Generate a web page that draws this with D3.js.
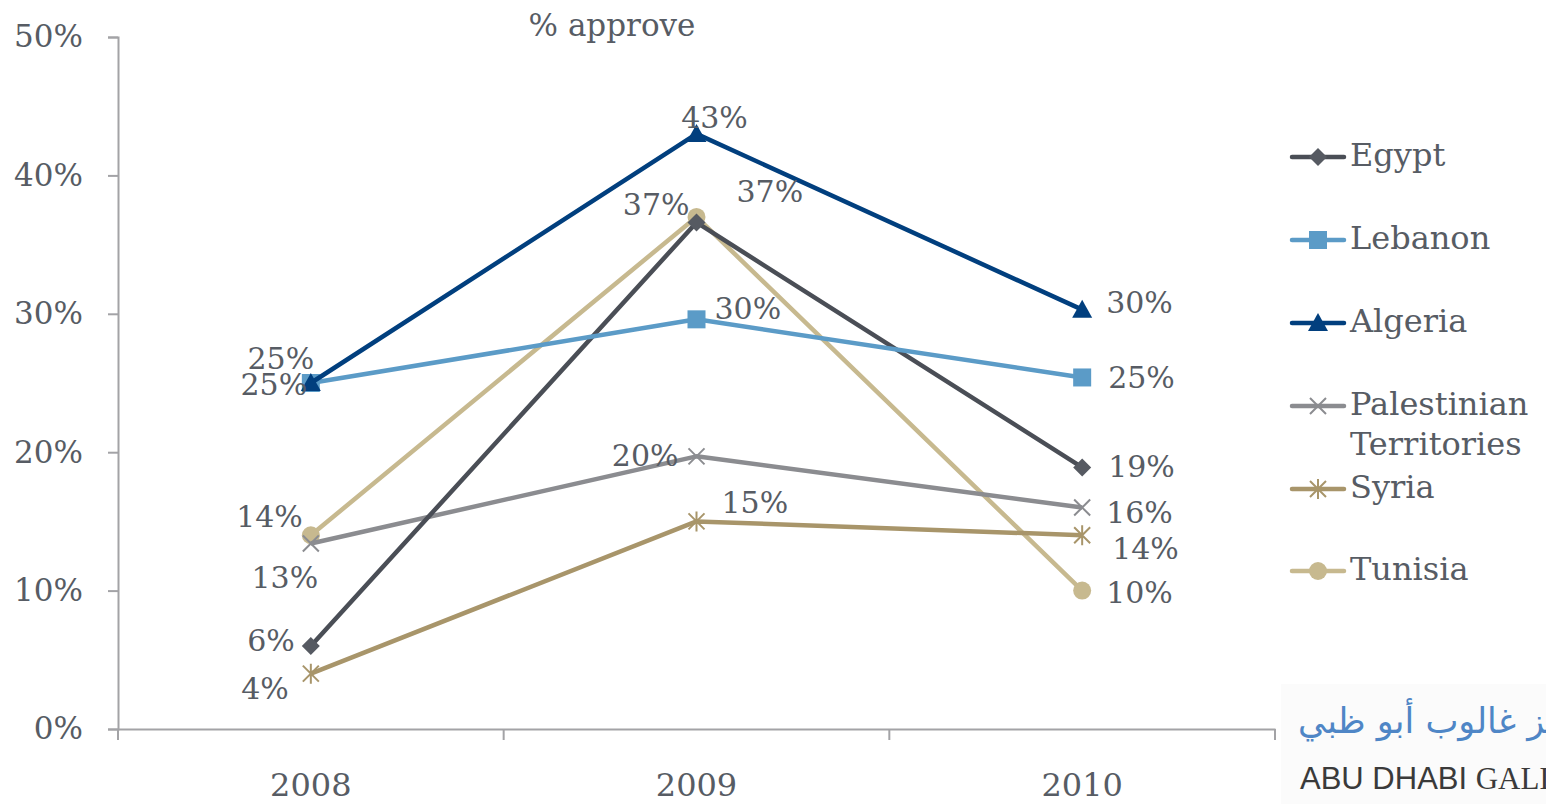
<!DOCTYPE html>
<html><head><meta charset="utf-8">
<script src="https://cdn.jsdelivr.net/npm/d3@7"></script>
<style>
body{margin:0;background:#fff;}
svg{display:block;}
text{font-family:Georgia,"DejaVu Serif",serif;fill:#575c64;}
</style></head><body>
<svg id="c" width="1546" height="804"></svg>
<script>
const years = ["2008", "2009", "2010"];
const yTicks = [0, 10, 20, 30, 40, 50];
const seriesNames = ["Egypt", "Lebanon", "Algeria", "Palestinian Territories", "Syria", "Tunisia"];
const egypt = [6, 36.6, 18.9];
const lebanon = [25, 29.6, 25.4];
const algeria = [25, 43, 30.3];
const palestinian = [13.4, 19.7, 16];
const syria = [4, 15, 14];
const tunisia = [14, 37, 10];
const labelsEgypt = ["6%", "37%", "19%"];
const labelsLebanon = ["25%", "30%", "25%"];
const labelsAlgeria = ["25%", "43%", "30%"];
const labelsPalestinian = ["13%", "20%", "16%"];
const labelsSyria = ["4%", "15%", "14%"];
const labelsTunisia = ["14%", "37%", "10%"];

// styling / placement (not data)
const colors = ["#4a4e56", "#5b9bc7", "#013f7e", "#8b8c90", "#a8956a", "#c7b98f"];
const symbols = ["diamond", "square", "triangle", "cross", "asterisk", "circle"];
const labelOffsets = [
  [[-16, -3, "end"], [40, -28, "start"], [26, 2, "start"]],
  [[-30, -22, "middle"], [18, -8, "start"], [26, 3, "start"]],
  [[-37, 4, "middle"], [18, -14, "middle"], [24, -5, "start"]],
  [[-26, 36, "middle"], [-18, 2, "end"], [24, 7, "start"]],
  [[-22, 17, "end"], [25, -16, "start"], [30, 16, "start"]],
  [[-8, -16, "end"], [-7, -10, "end"], [24, 4, "start"]]
];

const allValues = [egypt, lebanon, algeria, palestinian, syria, tunisia];
const allLabels = [labelsEgypt, labelsLebanon, labelsAlgeria, labelsPalestinian, labelsSyria, labelsTunisia];

const svg = d3.select("#c");
const pLeft = 118, pRight = 1275, pTop = 37, pBottom = 729;
const x = d3.scaleBand().domain(years).range([pLeft, pRight]);
const y = d3.scaleLinear().domain([0, 50]).range([pBottom, pTop]);
const cx = d => x(d) + x.bandwidth() / 2;
const serif = 'Georgia,"DejaVu Serif",serif';

// title
svg.append("text").attr("x", 612).attr("y", 36).attr("text-anchor", "middle")
  .style("font-size", "31px").text("% approve");

// y axis
const yAxis = svg.append("g").attr("transform", `translate(${pLeft},0)`)
  .call(d3.axisLeft(y).tickValues(yTicks).tickFormat(d => d + "%").tickSize(10).tickPadding(25));
yAxis.select(".domain").attr("stroke", "#a3a3a6").attr("stroke-width", 2);
yAxis.selectAll(".tick line").attr("stroke", "#a3a3a6").attr("stroke-width", 2);
yAxis.selectAll(".tick text").style("font-size", "31px").attr("fill", "#575c64")
  .style("font-family", serif);

// x axis
const xAxis = svg.append("g").attr("transform", `translate(0,${pBottom})`)
  .call(d3.axisBottom(x).tickSize(0).tickPadding(44));
xAxis.select(".domain").attr("stroke", "#a3a3a6").attr("stroke-width", 2);
xAxis.selectAll(".tick text").style("font-size", "32px").attr("fill", "#575c64")
  .style("font-family", serif);
const bounds = [x.range()[0]].concat(years.map(d => x(d) + x.bandwidth()));
xAxis.selectAll(".sep").data(bounds).enter().append("line")
  .attr("x1", d => d).attr("x2", d => d).attr("y1", 0).attr("y2", 11)
  .attr("stroke", "#a3a3a6").attr("stroke-width", 2);

function drawMarker(g, type, color, px, py) {
  if (type === "diamond") {
    g.append("path").attr("d", `M${px},${py-9}L${px+9},${py}L${px},${py+9}L${px-9},${py}Z`).attr("fill", "#565a62");
  } else if (type === "square") {
    g.append("rect").attr("x", px-9).attr("y", py-9).attr("width", 18).attr("height", 18).attr("fill", color);
  } else if (type === "triangle") {
    g.append("path").attr("d", `M${px},${py-10}L${px+10},${py+8}L${px-10},${py+8}Z`).attr("fill", color);
  } else if (type === "cross") {
    g.append("path").attr("d", `M${px-8},${py-8}L${px+8},${py+8}M${px-8},${py+8}L${px+8},${py-8}`)
      .attr("stroke", color).attr("stroke-width", 2);
  } else if (type === "asterisk") {
    g.append("path").attr("d", `M${px-8},${py-8}L${px+8},${py+8}M${px-8},${py+8}L${px+8},${py-8}M${px},${py-10}L${px},${py+10}`)
      .attr("stroke", color).attr("stroke-width", 2);
  } else if (type === "circle") {
    g.append("circle").attr("cx", px).attr("cy", py).attr("r", 9).attr("fill", color);
  }
}

const line = d3.line().x((d, i) => cx(years[i])).y(d => y(d));
const drawOrder = [5, 4, 3, 0, 1, 2];
drawOrder.forEach(si => {
  const g = svg.append("g");
  g.append("path").datum(allValues[si]).attr("d", line).attr("fill", "none")
    .attr("stroke", colors[si]).attr("stroke-width", 4.5).attr("stroke-linejoin", "round");
  allValues[si].forEach((v, i) => drawMarker(g, symbols[si], colors[si], cx(years[i]), y(v)));
});
// labels
allValues.forEach((vals, si) => {
  vals.forEach((v, i) => {
    const o = labelOffsets[si][i];
    svg.append("text").attr("x", cx(years[i]) + o[0]).attr("y", y(v) + o[1])
      .attr("text-anchor", o[2]).attr("dominant-baseline", "middle")
      .style("font-size", "30px").text(allLabels[si][i]);
  });
});

// legend
const legY = [157, 240, 323, 406, 489, 571];
seriesNames.forEach((name, si) => {
  const g = svg.append("g");
  const ly = legY[si];
  g.append("line").attr("x1", 1292).attr("x2", 1344).attr("y1", ly).attr("y2", ly)
    .attr("stroke", colors[si]).attr("stroke-width", 4.5).attr("stroke-linecap", "round");
  drawMarker(g, symbols[si], colors[si], 1318, ly);
  const words = name === "Palestinian Territories" ? ["Palestinian", "Territories"] : [name];
  words.forEach((w, k) => {
    g.append("text").attr("x", 1350).attr("y", ly + k * 40).attr("dominant-baseline", "middle")
      .style("font-size", "32px").text(w);
  });
});

// logo
svg.append("rect").attr("x", 1281).attr("y", 684).attr("width", 265).attr("height", 120).attr("fill", "#fbfbfb");
svg.append("text").attr("x", 1298).attr("y", 733).style("font-family", '"DejaVu Sans","Noto Sans",sans-serif')
  .style("font-size", "35px").style("fill", "#4f86c6").attr("direction", "ltr")
  .text("مركز غالوب أبو ظبي");
const t2 = svg.append("text").attr("x", 1300).attr("y", 789).style("font-size", "31px").style("fill", "#3a3a3a");
t2.append("tspan").style("font-family", '"Liberation Sans",Arial,sans-serif').style("fill", "#3a3a3a").text("ABU DHABI ");
t2.append("tspan").style("font-family", '"Liberation Serif",serif').style("fill", "#3a3a3a").text("GALLUP");
</script>
</body></html>
